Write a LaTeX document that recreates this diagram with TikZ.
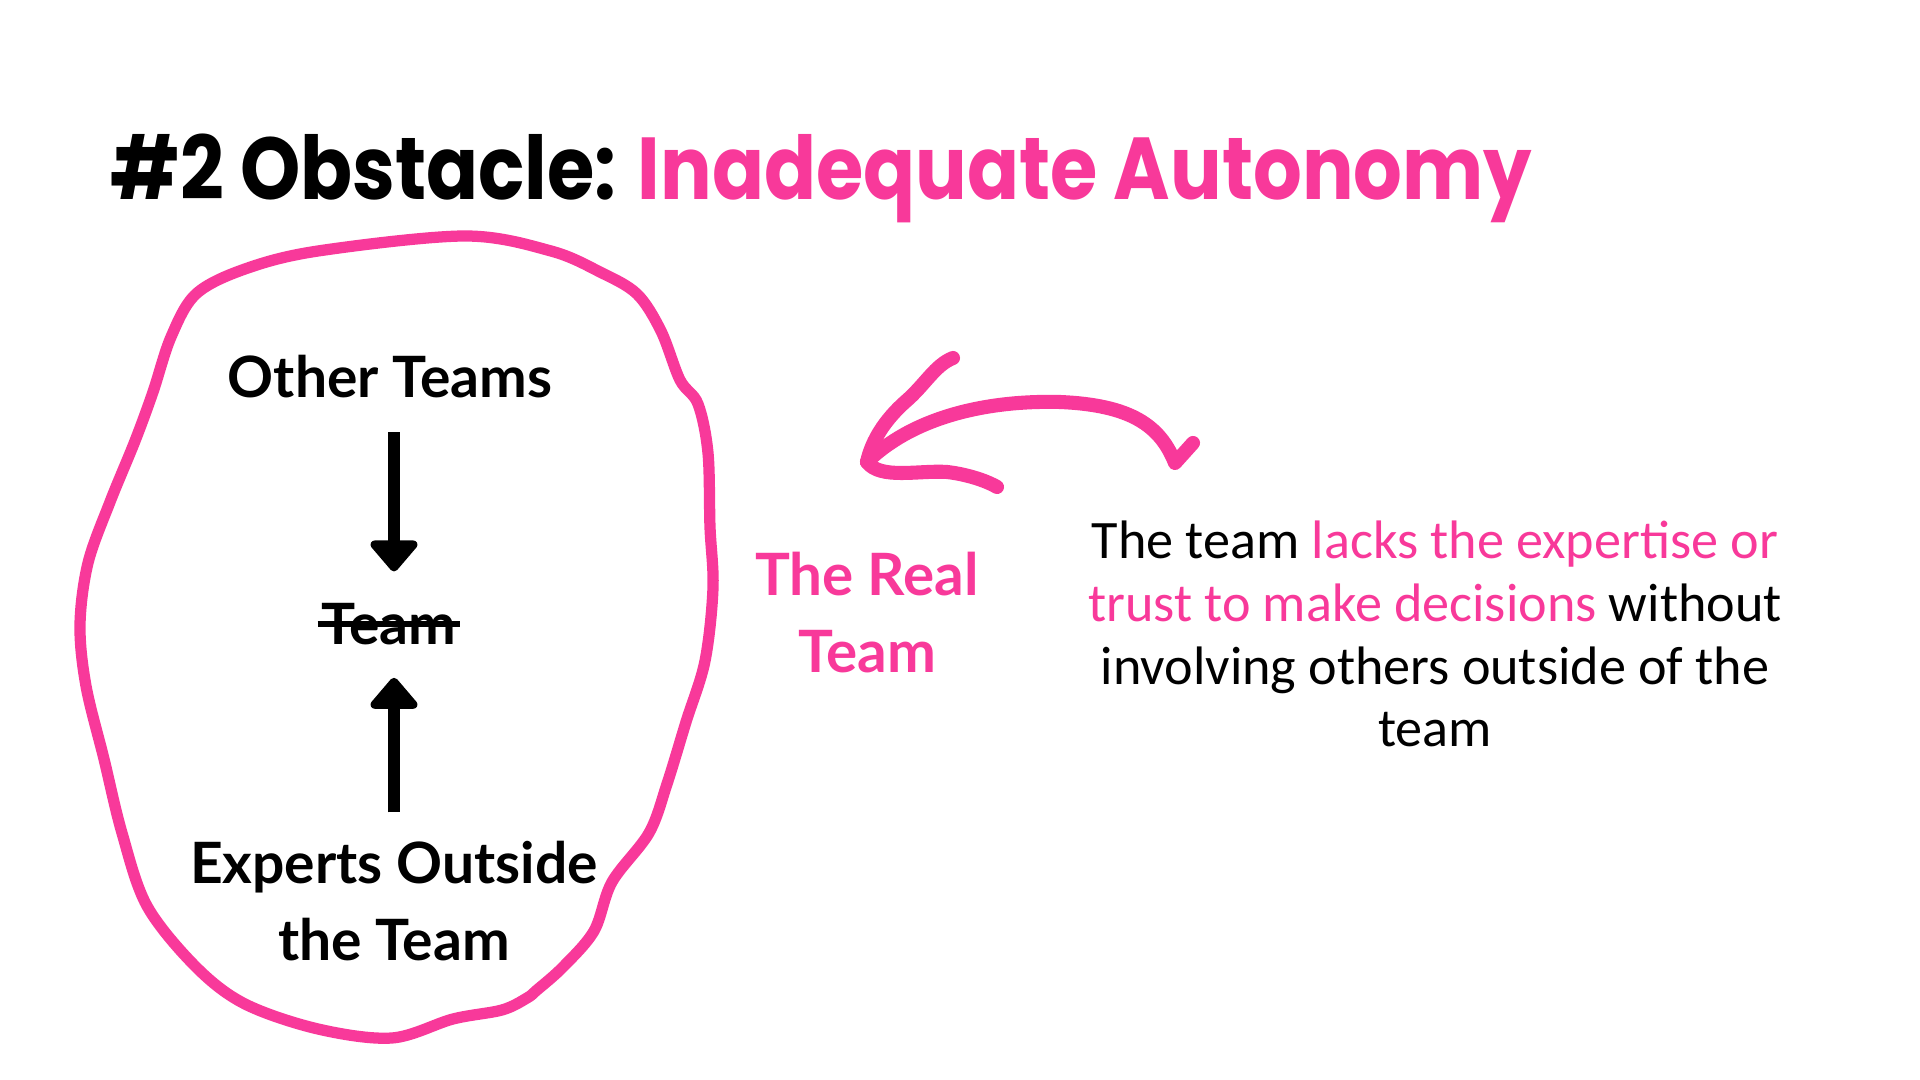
\documentclass[tikz,border=0pt]{standalone}
\usepackage{fontspec}
\setmainfont{Lato}
\newfontfamily\titlefont{Poppins}
\newfontfamily\bodyfont{Carlito}
\usetikzlibrary{arrows.meta}
\definecolor{hotpink}{HTML}{F8399A}
\tikzset{
  blob/.style={draw=hotpink, line width=3.2pt, line join=round},
  doodle/.style={draw=hotpink, line width=4pt, line cap=round, line join=round},
  label/.style={font=\fontsize{16.2}{22}\selectfont\bfseries, inner sep=0pt, anchor=base},
  pinklabel/.style={font=\fontsize{16.6}{22}\selectfont\bfseries, text=hotpink, inner sep=0pt, anchor=base},
  para/.style={font=\bodyfont\fontsize{15.4}{17.9}\selectfont, align=center, inner sep=0pt, anchor=base},
  bigarrow/.style={line width=3.6pt, -{Triangle[width=15.5pt, length=9.5pt, round]}},
}
\begin{document}
\begin{tikzpicture}[x=0.01cm, y=-0.01cm]
\useasboundingbox[fill=white] (0,0) rectangle (1920,1080);

% title
\node[inner sep=0pt, anchor=base west, font=\titlefont\fontsize{25}{30}\selectfont\bfseries] (title) at (110,200)
  {\scalebox{0.872}[1]{\#2 Obstacle: \textcolor{hotpink}{Inadequate Autonomy}}};

% blob
\draw[blob] plot[smooth cycle, tension=0.55] coordinates {
 (318,251) (465,236) (551,251) (600,272) (637,294) (661,331) (680,380) (698,404)
 (708,453) (710,527) (713,588) (705,661) (686,722) (667,784) (649,833) (612,882)
 (594,931) (563,967) (537,990) (527,998) (502,1010) (453,1019) (392,1038) (318,1029) (245,1004)
 (196,967) (147,906) (122,833) (104,759) (86,686) (80,625) (88,563) (110,502)
 (135,441) (153,392) (171,337) (196,294) (245,269)};

% inner labels
\node[label] (other) at (390,398) {Other Teams};
\node[label] (team) at (389,645) {Team};
\draw[line width=1.5pt] ([xshift=-1pt]team.west |- 0,624) -- ([xshift=1pt]team.east |- 0,624);
\node[label, align=center] (experts) at (394,961) {Experts Outside\\the Team};

\draw[bigarrow, shorten <=9.4pt, shorten >=9pt] (other.south -| 394,0) -- (team.north -| 394,0);
\draw[bigarrow, shorten <=8pt, shorten >=9pt] (experts.north -| 394,0) -- (team.south -| 394,0);

% real team
\node[pinklabel, align=center] (real) at (867,673) {The Real\\Team};

% description
\node[para] (desc) at (1435,747) {The team \textcolor{hotpink}{lacks the expertise or}\\
  \textcolor{hotpink}{trust to make decisions} without\\
  involving others outside of the\\
  team};

% pink hand-drawn arrow
\coordinate (tip) at (867,462);
\draw[doodle] (1193,443) -- (1175,463) .. controls (1160,425) and (1130,405) .. (1060,402)
  .. controls (980,400) and (910,420) .. (tip);
\draw[doodle] (953,358) .. controls (935,365) and (925,385) .. (905,402)
  .. controls (885,420) and (872,440) .. (tip);
\draw[doodle] (tip) .. controls (880,480) and (920,470) .. (947,472)
  .. controls (965,474) and (985,480) .. (997,487);
\end{tikzpicture}
\end{document}
